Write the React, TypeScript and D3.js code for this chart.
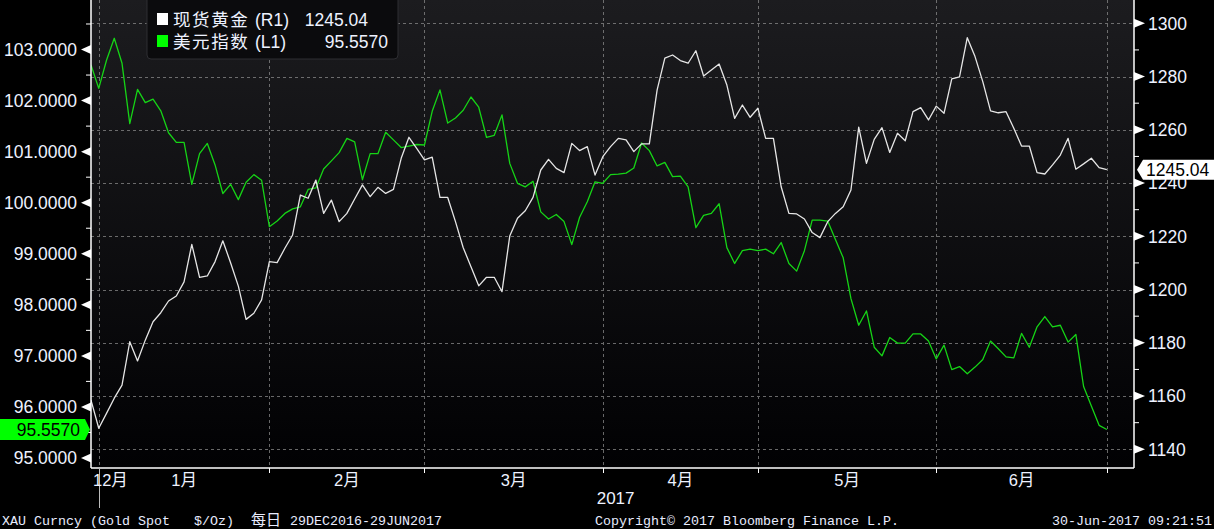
import React from "react";
import * as d3 from "d3";

// ---- DATA ----
const startDate = new Date(2016, 11, 29);
const endDate = new Date(2017, 5, 30);

const usdIndex: number[] = [
  102.70, 102.24, 102.79, 103.22, 102.73, 101.55, 102.22, 101.96, 102.03, 101.80,
  101.37, 101.18, 101.18, 100.36, 100.96, 101.16, 100.74, 100.18, 100.36, 100.06,
  100.40, 100.55, 100.44, 99.53, 99.64, 99.79, 99.88, 99.92, 100.26, 100.29,
  100.66, 100.82, 100.98, 101.26, 101.19, 100.45, 100.96, 100.96, 101.38, 101.23,
  101.08, 101.11, 101.14, 101.13, 101.79, 102.21, 101.56, 101.66, 101.81, 102.07,
  101.87, 101.28, 101.32, 101.72, 100.77, 100.38, 100.31, 100.42, 99.82, 99.68,
  99.77, 99.63, 99.18, 99.71, 100.02, 100.41, 100.38, 100.55, 100.56, 100.58,
  100.68, 101.17, 101.02, 100.72, 100.79, 100.51, 100.52, 100.31, 99.51, 99.75,
  99.79, 99.98, 99.12, 98.81, 99.06, 99.09, 99.06, 99.09, 99.00, 99.22,
  98.81, 98.66, 99.06, 99.66, 99.66, 99.64, 99.28, 98.92, 98.12, 97.60,
  97.88, 97.17, 97.00, 97.36, 97.25, 97.25, 97.43, 97.43, 97.29, 96.94,
  97.21, 96.73, 96.79, 96.65, 96.78, 96.93, 97.29, 97.14, 96.98, 96.96,
  97.44, 97.17, 97.57, 97.77, 97.57, 97.60, 97.27, 97.42, 96.40, 96.02,
  95.64, 95.557,
];

const goldSpot: number[] = [
  1158.5, 1147.9, 1153.5, 1159.2, 1164.1, 1180.4, 1173.2, 1181.0, 1187.9, 1191.3,
  1195.7, 1197.6, 1202.9, 1217.0, 1204.6, 1205.1, 1210.5, 1218.3, 1210.1, 1201.3,
  1188.8, 1191.1, 1196.1, 1210.5, 1210.1, 1215.5, 1220.5, 1235.5, 1234.3, 1241.1,
  1228.6, 1233.6, 1225.5, 1228.6, 1234.0, 1239.3, 1234.9, 1238.4, 1236.1, 1237.6,
  1249.3, 1257.2, 1253.0, 1248.7, 1249.7, 1234.6, 1234.6, 1225.5, 1215.7, 1208.6,
  1201.4, 1204.6, 1204.6, 1199.2, 1220.1, 1226.8, 1229.6, 1234.6, 1244.9, 1248.9,
  1245.5, 1243.9, 1254.9, 1252.2, 1253.7, 1243.0, 1249.9, 1253.7, 1256.8, 1256.2,
  1251.8, 1254.7, 1254.7, 1274.9, 1286.9, 1288.1, 1286.0, 1285.0, 1289.7, 1280.2,
  1282.5, 1284.7, 1276.8, 1264.3, 1269.3, 1264.7, 1268.1, 1256.8, 1256.8, 1238.6,
  1228.6, 1228.4, 1226.5, 1221.4, 1219.5, 1225.5, 1228.6, 1231.1, 1237.4, 1261.0,
  1247.4, 1256.4, 1260.8, 1251.5, 1258.7, 1255.9, 1266.8, 1268.3, 1263.7, 1268.9,
  1266.2, 1279.1, 1279.9, 1294.6, 1287.5, 1278.1, 1267.1, 1266.4, 1266.8, 1260.6,
  1253.9, 1253.9, 1243.9, 1243.4, 1246.8, 1250.5, 1256.8, 1245.2, 1247.2, 1249.3,
  1245.8, 1245.04,
];

const leftTicks: number[] = [95, 96, 97, 98, 99, 100, 101, 102, 103];
const leftMinorTicks: number[] = [95.5, 96.5, 97.5, 98.5, 99.5, 100.5, 101.5, 102.5, 103.5];
const rightTicks: number[] = [1140, 1160, 1180, 1200, 1220, 1240, 1260, 1280, 1300];
const rightMinorTicks: number[] = [1150, 1170, 1190, 1210, 1230, 1250, 1270, 1290];
const monthLabels: string[] = ["12月", "1月", "2月", "3月", "4月", "5月", "6月"];

const goldName = "现货黄金";
const goldCode = "(R1)";
const usdName = "美元指数";
const usdCode = "(L1)";
const goldLast = "1245.04";
const usdLast = "95.5570";

// ---- LAYOUT ----
const W = 1214;
const H = 529;
const plotL = 91;
const plotR = 1134;
const plotT = 0;
const plotB = 468;
const tickFont = "'Liberation Sans', Arial, 'Noto Sans CJK SC', sans-serif";
const cjkFont = "'Noto Sans CJK SC', sans-serif";
const monoFont = "'Liberation Mono', 'DejaVu Sans Mono', monospace";
const textColor = "#eef2ff";

// weekday dates
const dates: Date[] = d3.timeDay
  .range(startDate, d3.timeDay.offset(endDate, 1))
  .filter((d) => d.getDay() !== 0 && d.getDay() !== 6);

export default function App() {
  const n = dates.length;
  const x = d3.scaleLinear().domain([0, n - 1 + 3.5]).range([plotL, plotR]);
  const yL = d3.scaleLinear().domain([94.804, 103.97]).range([plotB, plotT]);
  const yR = d3.scaleLinear().domain([1132.98, 1308.75]).range([plotB, plotT]);

  // month-end indices
  const monthEnds: number[] = [];
  for (let i = 0; i < n; i++) {
    if (i === n - 1 || dates[i + 1].getMonth() !== dates[i].getMonth()) monthEnds.push(i);
  }

  const goldLine = d3
    .line<number>()
    .x((_, i) => x(i))
    .y((d) => yR(d));
  const usdLine = d3
    .line<number>()
    .x((_, i) => x(i))
    .y((d) => yL(d));

  React.useEffect(() => {
    document.body.style.margin = "0";
    document.body.style.background = "#000";
  }, []);

  const usdY = yL(usdIndex[usdIndex.length - 1]);
  const goldY = yR(goldSpot[goldSpot.length - 1]);

  return (
    <svg width={W} height={H} style={{ position: "absolute", left: 0, top: 0, display: "block" }}>
      <defs>
        <linearGradient id="bg" x1="0" y1="0" x2="0" y2="1">
          <stop offset="0%" stopColor="#1c1c1f" />
          <stop offset="100%" stopColor="#010103" />
        </linearGradient>
        <clipPath id="plotClip">
          <rect x={plotL} y={plotT} width={plotR - plotL} height={plotB - plotT} />
        </clipPath>
      </defs>
      <rect x={0} y={0} width={W} height={H} fill="#000" />
      <rect x={plotL} y={plotT} width={plotR - plotL} height={plotB - plotT} fill="url(#bg)" />

      {/* grid */}
      <g stroke="#8a8a8a" strokeWidth={1} strokeDasharray="3,3" opacity={0.75}>
        {rightTicks.map((t) => (
          <line key={"h" + t} x1={plotL} x2={plotR} y1={Math.round(yR(t)) + 0.5} y2={Math.round(yR(t)) + 0.5} />
        ))}
        {monthEnds.map((i) => (
          <line key={"v" + i} x1={Math.round(x(i)) + 0.5} x2={Math.round(x(i)) + 0.5} y1={plotT} y2={plotB} />
        ))}
      </g>

      {/* series */}
      <g clipPath="url(#plotClip)" fill="none" strokeLinejoin="round">
        <path d={usdLine(usdIndex) || ""} stroke="#16d416" strokeWidth={1.3} />
        <path d={goldLine(goldSpot) || ""} stroke="#e6e6e6" strokeWidth={1.3} />
      </g>

      {/* axes lines */}
      <g stroke="#ffffff" strokeWidth={1.5}>
        <line x1={plotL} x2={plotL} y1={0} y2={plotB} />
        <line x1={plotR} x2={plotR} y1={0} y2={plotB} />
        <line x1={plotL} x2={plotR} y1={plotB} y2={plotB} />
      </g>

      {/* bottom ticks */}
      <g stroke="#ffffff" strokeWidth={1}>
        {monthEnds.map((i, k) => (
          <line
            key={"bt" + i}
            x1={Math.round(x(i)) + 0.5}
            x2={Math.round(x(i)) + 0.5}
            y1={plotB}
            y2={k === 0 ? 508 : plotB + 5}
            stroke={k === 0 ? "#bbbbbb" : "#ffffff"}
          />
        ))}
      </g>

      {/* month labels */}
      <g fill={textColor} fontFamily={tickFont} fontSize={16.5}>
        {monthLabels.map((m, k) => {
          if (k === 0) {
            return (
              <text key={m} x={plotL + 2} y={486}>
                {m}
              </text>
            );
          }
          const a = x(monthEnds[k - 1]);
          const b = x(monthEnds[k]);
          return (
            <text key={m} x={(a + b) / 2} y={486} textAnchor="middle">
              {m}
            </text>
          );
        })}
        <text x={(x(monthEnds[2]) + x(monthEnds[3])) / 2 + 102} y={504} textAnchor="middle" fontSize={17}>
          2017
        </text>
      </g>

      {/* left axis */}
      <g>
        {leftMinorTicks.map((t) => (
          <line key={"lm" + t} x1={plotL - 5} x2={plotL} y1={yL(t)} y2={yL(t)} stroke="#fff" strokeWidth={1} />
        ))}
        {leftTicks.map((t) => (
          <g key={"lt" + t}>
            <path
              d={`M${plotL},${yL(t) - 4.5} L${plotL - 10},${yL(t)} L${plotL},${yL(t) + 4.5} Z`}
              fill="#ffffff"
            />
            <text
              x={77}
              y={yL(t)}
              dy="0.36em"
              textAnchor="end"
              fill={textColor}
              fontFamily={tickFont}
              fontSize={17.5}
            >
              {t.toFixed(4)}
            </text>
          </g>
        ))}
      </g>

      {/* right axis */}
      <g>
        {rightMinorTicks.map((t) => (
          <line key={"rm" + t} x1={plotR} x2={plotR + 5} y1={yR(t)} y2={yR(t)} stroke="#fff" strokeWidth={1} />
        ))}
        {rightTicks.map((t) => (
          <g key={"rt" + t}>
            <path
              d={`M${plotR},${yR(t) - 4.5} L${plotR + 11},${yR(t)} L${plotR},${yR(t) + 4.5} Z`}
              fill="#ffffff"
            />
            <text
              x={1148}
              y={yR(t)}
              dy="0.36em"
              fill={textColor}
              fontFamily={tickFont}
              fontSize={17.5}
            >
              {t}
            </text>
          </g>
        ))}
      </g>

      {/* last value tags */}
      <g>
        <path
          d={`M0,${usdY - 10.5} L85,${usdY - 10.5} L90,${usdY} L85,${usdY + 10.5} L0,${usdY + 10.5} Z`}
          fill="#00ff00"
        />
        <text x={80} y={usdY} dy="0.36em" textAnchor="end" fill="#000" fontFamily={tickFont} fontSize={17.5}>
          {usdLast}
        </text>
        <path
          d={`M${plotR + 3},${goldY} L${plotR + 9},${goldY - 10} L${W},${goldY - 10} L${W},${goldY + 10} L${plotR + 9},${goldY + 10} Z`}
          fill="#ffffff"
        />
        <text x={1146} y={goldY} dy="0.36em" fill="#000" fontFamily={tickFont} fontSize={17.5}>
          {goldLast}
        </text>
      </g>

      {/* legend */}
      <g>
        <rect x={147} y={-5} width={251} height={64} rx={4} fill="#0b0b0d" stroke="#2e2e32" strokeWidth={1} />
        <rect x={157} y={13} width={11} height={12} fill="#ffffff" />
        <rect x={157} y={35} width={11} height={12} fill="#00ff00" />
        <g fill={textColor} fontFamily={tickFont} fontSize={17.5}>
          <text x={173} y={26} letterSpacing={1.6}>{goldName}</text>
          <text x={255} y={26}>{goldCode}</text>
          <text x={368} y={26} textAnchor="end">{goldLast}</text>
          <text x={173} y={48} letterSpacing={1.6}>{usdName}</text>
          <text x={255} y={48}>{usdCode}</text>
          <text x={388} y={48} textAnchor="end">{usdLast}</text>
        </g>
      </g>

      {/* footer */}
      <g fill="#e8ecff" fontFamily={monoFont} fontSize={13.33}>
        <text x={2} y={525} xmlSpace="preserve">XAU Curncy (Gold Spot   $/Oz)</text>
        <text x={251} y={525} fontFamily={cjkFont} fontSize={15}>每日</text>
        <text x={290} y={525}>29DEC2016-29JUN2017</text>
        <text x={595} y={525}>Copyright© 2017 Bloomberg Finance L.P.</text>
        <text x={1212} y={525} textAnchor="end">30-Jun-2017 09:21:51</text>
      </g>
    </svg>
  );
}
